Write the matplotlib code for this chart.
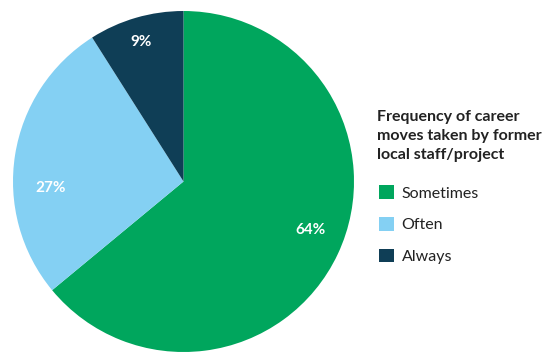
import matplotlib.pyplot as plt
from matplotlib.patches import Patch

plt.rcParams["font.family"] = ["Lato", "DejaVu Sans"]

categories = ["Sometimes", "Often", "Always"]
shares = [64, 27, 9]
colors = ["#00A65D", "#84D0F3", "#0F3E56"]
legend_title = "Frequency of career\nmoves taken by former\nlocal staff/project"
# where the percent labels sit, in pie radius units
label_pos = [(0.747, -0.282), (-0.782, -0.041), (-0.247, 0.818)]

W, H = 549, 352
fig = plt.figure(figsize=(W / 100, H / 100), dpi=100)
ax = fig.add_axes([13 / W, (H - 352) / H, 341 / W, 341 / H])

wedges, texts, autotexts = ax.pie(
    shares,
    colors=colors,
    startangle=90,
    counterclock=False,
    autopct=lambda p: f"{p:.0f}%",
    pctdistance=0.8,
    wedgeprops=dict(linewidth=0),
    textprops=dict(color="white", fontsize=11, fontweight="bold"),
)
for t, pos in zip(autotexts, label_pos):
    t.set_position(pos)
ax.set_xlim(-1, 1)
ax.set_ylim(-1, 1)
ax.set_aspect("equal")

fig.text(377 / W, 1 - 110 / H, legend_title, fontsize=11.5, fontweight="bold",
         color="#222222", va="top", ha="left", linespacing=1.45)

handles = [Patch(facecolor=c, edgecolor="none") for c in colors]
fig.legend(
    handles, categories,
    loc="upper left",
    bbox_to_anchor=(365 / W, 1 - 171 / H),
    frameon=False,
    fontsize=11.5,
    handlelength=0.9,
    handleheight=0.9,
    handletextpad=0.5,
    labelspacing=1.05,
    labelcolor="#222222",
)

fig.savefig("out.png", dpi=100)
